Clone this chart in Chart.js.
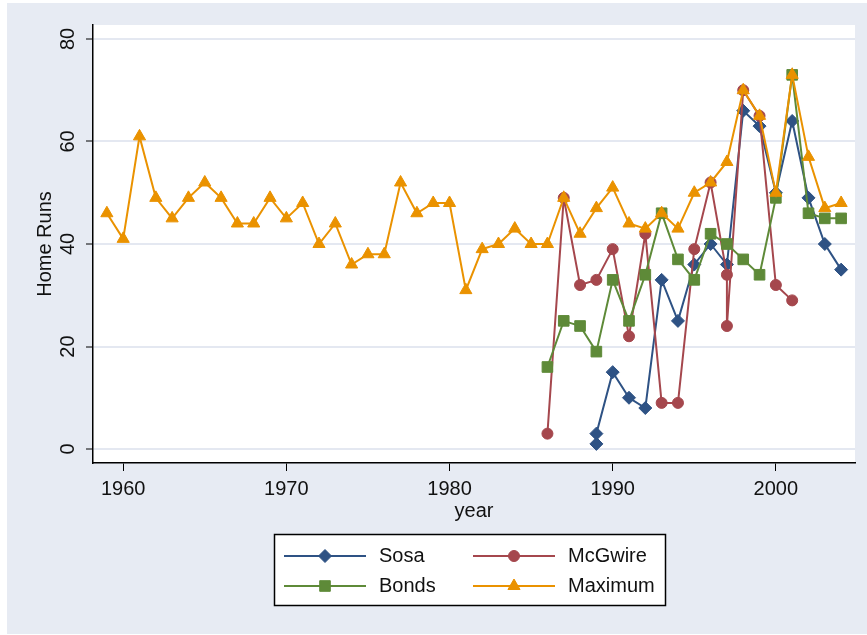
<!DOCTYPE html>
<html>
<head>
<meta charset="utf-8">
<script src="https://cdn.jsdelivr.net/npm/chart.js@4.4.1/dist/chart.umd.min.js"></script>
<style>
  html, body { margin: 0; padding: 0; background: #fff; }
  #wrap { width: 867px; height: 635px; }
</style>
</head>
<body>
<div id="wrap"><canvas id="chart" width="867" height="635"></canvas></div>
<script>
// Data
const maxYears = [1959, 1960, 1961, 1962, 1963, 1964, 1965, 1966, 1967, 1968,
                  1969, 1970, 1971, 1972, 1973, 1974, 1975, 1976, 1977, 1978,
                  1979, 1980, 1981, 1982, 1983, 1984, 1985, 1986, 1987, 1988,
                  1989, 1990, 1991, 1992, 1993, 1994, 1995, 1996, 1997, 1998,
                  1999, 2000, 2001, 2002, 2003, 2004];
const maxHR = [46, 41, 61, 49, 45, 49, 52, 49, 44, 44,
               49, 45, 48, 40, 44, 36, 38, 38, 52, 46,
               48, 48, 31, 39, 40, 43, 40, 40, 49, 42,
               47, 51, 44, 43, 46, 43, 50, 52, 56, 70,
               65, 50, 73, 57, 47, 48];

const sosaYears = [1989, 1989, 1990, 1991, 1992, 1993, 1994, 1995, 1996, 1997,
                   1998, 1999, 2000, 2001, 2002, 2003, 2004];
const sosaHR = [1, 3, 15, 10, 8, 33, 25, 36, 40, 36, 66, 63, 50, 64, 49, 40, 35];

const mcgwireYears = [1986, 1987, 1988, 1989, 1990, 1991, 1992, 1993, 1994, 1995,
                      1996, 1997, 1997, 1998, 1999, 2000, 2001];
const mcgwireHR = [3, 49, 32, 33, 39, 22, 42, 9, 9, 39, 52, 34, 24, 70, 65, 32, 29];

const bondsYears = [1986, 1987, 1988, 1989, 1990, 1991, 1992, 1993, 1994, 1995,
                    1996, 1997, 1998, 1999, 2000, 2001, 2002, 2003, 2004];
const bondsHR = [16, 25, 24, 19, 33, 25, 34, 46, 37, 33, 42, 40, 37, 34, 49, 73, 46, 45, 45];

const xTicks = [1960, 1970, 1980, 1990, 2000];
const yTicks = [0, 20, 40, 60, 80];
const xTitle = 'year';
const yTitle = 'Home Runs';

const FONT = "'Liberation Sans', Arial, sans-serif";
const bgColor = '#e7ebf3';
const gridColor = '#e4e8f1';
const textColor = '#111';

function pts(xs, ys) {
    return xs.map((x, i) => ({ x: x, y: ys[i] }));
}

function series(label, xs, ys, color, style, radius, order) {
    return {
        label: label,
        data: pts(xs, ys),
        borderColor: color,
        backgroundColor: color,
        borderWidth: 2,
        pointStyle: style,
        pointRadius: radius,
        pointBorderWidth: 1,
        pointBackgroundColor: color,
        pointBorderColor: color,
        tension: 0,
        order: order
    };
}

const datasets = [
    series('Sosa', sosaYears, sosaHR, '#2e5284', 'rectRot', 6.5, 4),
    series('McGwire', mcgwireYears, mcgwireHR, '#a5474d', 'circle', 5.5, 3),
    series('Bonds', bondsYears, bondsHR, '#5e8a38', 'rect', 7.5, 2),
    series('Maximum', maxYears, maxHR, '#ea9200', 'triangle', 7, 1)
];

// Backgrounds, rotated y labels, titles and the legend box
const decor = {
    id: 'decor',
    beforeDraw(chart) {
        const ctx = chart.ctx;
        const a = chart.chartArea;
        ctx.save();
        ctx.fillStyle = '#fff';
        ctx.fillRect(0, 0, chart.width, chart.height);
        ctx.fillStyle = bgColor;
        ctx.fillRect(7, 3, chart.width - 7, chart.height - 4);
        ctx.fillStyle = '#fff';
        ctx.fillRect(a.left, a.top, a.right - a.left, a.bottom - a.top);
        ctx.restore();
    },
    afterDraw(chart) {
        const ctx = chart.ctx;
        const a = chart.chartArea;
        const ys = chart.scales.y;
        ctx.save();
        ctx.fillStyle = textColor;
        ctx.font = '20px ' + FONT;
        ctx.textAlign = 'center';
        ctx.textBaseline = 'middle';

        yTicks.forEach(v => {
            ctx.save();
            ctx.translate(68, ys.getPixelForValue(v));
            ctx.rotate(-Math.PI / 2);
            ctx.fillText(String(v), 0, 0);
            ctx.restore();
        });

        ctx.save();
        ctx.translate(45, (a.top + a.bottom) / 2);
        ctx.rotate(-Math.PI / 2);
        ctx.fillText(yTitle, 0, 0);
        ctx.restore();

        ctx.fillText(xTitle, (a.left + a.right) / 2, 511);

        // legend
        ctx.fillStyle = '#fff';
        ctx.fillRect(274, 534, 392, 72);
        ctx.strokeStyle = '#000';
        ctx.lineWidth = 1.5;
        ctx.strokeRect(274.5, 534.5, 391, 71);

        const cols = [284, 473];
        const rows = [556, 586];
        chart.data.datasets.forEach((ds, i) => {
            const x0 = cols[i % 2];
            const y0 = rows[Math.floor(i / 2)];
            ctx.strokeStyle = ds.borderColor;
            ctx.lineWidth = 2;
            ctx.beginPath();
            ctx.moveTo(x0, y0);
            ctx.lineTo(x0 + 82, y0);
            ctx.stroke();
            ctx.fillStyle = ds.backgroundColor;
            ctx.lineWidth = 1;
            Chart.helpers.drawPoint(ctx, {
                pointStyle: ds.pointStyle,
                radius: ds.pointRadius,
                rotation: 0,
                borderWidth: 1
            }, x0 + 41, y0);
            ctx.fillStyle = textColor;
            ctx.textAlign = 'left';
            ctx.fillText(ds.label, x0 + 95, y0);
        });
        ctx.restore();
    }
};

new Chart(document.getElementById('chart'), {
    type: 'line',
    data: { datasets: datasets },
    options: {
        responsive: false,
        animation: false,
        layout: { padding: { top: 25, right: 12, left: 0, bottom: 0 } },
        plugins: {
            legend: { display: false },
            tooltip: { enabled: false }
        },
        scales: {
            x: {
                type: 'linear',
                min: 1958.15,
                max: 2004.85,
                afterBuildTicks: s => { s.ticks = xTicks.map(v => ({ value: v })); },
                afterFit: s => { s.height = 172; },
                grid: { drawOnChartArea: false, drawTicks: true, tickLength: 8, tickColor: '#000', tickWidth: 1 },
                border: { color: '#000', width: 1.5 },
                ticks: {
                    font: { family: FONT, size: 20 },
                    color: textColor,
                    padding: 6,
                    maxRotation: 0,
                    callback: v => String(v)
                }
            },
            y: {
                type: 'linear',
                min: -2.73,
                max: 82.73,
                afterBuildTicks: s => { s.ticks = yTicks.map(v => ({ value: v })); },
                afterFit: s => { s.width = 93; },
                grid: { color: gridColor, lineWidth: 2, drawTicks: true, tickLength: 7, tickColor: '#000', tickWidth: 1 },
                border: { color: '#000', width: 1.5 },
                ticks: { display: false }
            }
        }
    },
    plugins: [decor]
});
</script>
</body>
</html>
